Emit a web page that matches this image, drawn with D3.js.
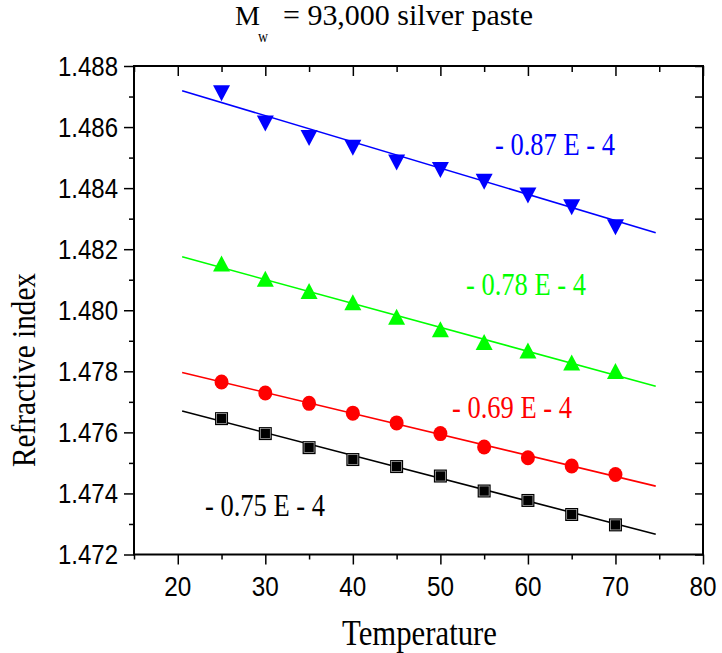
<!DOCTYPE html>
<html><head><meta charset="utf-8">
<script src="https://cdn.jsdelivr.net/npm/d3@7"></script>
<style>html,body{margin:0;padding:0;background:#fff;}svg{display:block;}</style>
</head><body>
<svg id="chart" width="722" height="653"></svg>
<script>
// ---- data ----
const temperatures = [25, 30, 35, 40, 45, 50, 55, 60, 65, 70];
const blueValues  = [1.48711, 1.48612, 1.48564, 1.48532, 1.48484, 1.48459, 1.48421, 1.48376, 1.48337, 1.48272];
const greenValues = [1.48153, 1.48103, 1.48063, 1.48026, 1.47979, 1.47938, 1.47896, 1.47868, 1.47829, 1.47801];
const redValues   = [1.47765, 1.47729, 1.47695, 1.47663, 1.47631, 1.47596, 1.47552, 1.47517, 1.47490, 1.47462];
const blackValues = [1.47645, 1.47596, 1.47550, 1.47511, 1.47488, 1.47457, 1.47408, 1.47377, 1.47331, 1.47297];
const fitX = [20.5, 74.6];
const blueFit  = [1.48719, 1.48254];
const greenFit = [1.48175, 1.47751];
const redFit   = [1.47796, 1.47424];
const blackFit = [1.47670, 1.47266];
const slopeLabels = ["- 0.87 E - 4", "- 0.78 E - 4", "- 0.69 E - 4", "- 0.75 E - 4"];
const xTicks = [20, 30, 40, 50, 60, 70, 80];
const yTicks = [1.472, 1.474, 1.476, 1.478, 1.480, 1.482, 1.484, 1.486, 1.488];

(function () {
const svg = d3.select("#chart");
const L = 134, R = 703, T = 66, B = 554.5;
const x = d3.scaleLinear().domain([15, 80]).range([L, R]);
const y = d3.scaleLinear().domain([1.472, 1.488]).range([B, T]);

const serif = "'Liberation Serif','Times New Roman',serif";
const sans = "'Liberation Sans',Arial,sans-serif";

function txt(g, s, opts) {
  const t = g.append("text").text(s)
    .attr("x", opts.x).attr("y", opts.y)
    .attr("font-family", opts.family).attr("font-size", opts.size)
    .attr("fill", opts.fill || "#000")
    .attr("text-anchor", opts.anchor || "start");
  if (opts.len) t.attr("textLength", opts.len).attr("lengthAdjust", "spacingAndGlyphs");
  if (opts.transform) t.attr("transform", opts.transform);
  return t;
}

// ---- axes ----
const minorX = d3.range(15, 81, 5);
const minorY = d3.range(0, 17).map(i => 1.472 + i * 0.001);

const axB = svg.append("g").attr("transform", `translate(0,${B})`)
  .call(d3.axisBottom(x).tickValues(minorX).tickSize(5).tickFormat(""));
axB.selectAll(".tick line").filter(d => d % 10 === 0).attr("y2", 10);
const axT = svg.append("g").attr("transform", `translate(0,${T})`)
  .call(d3.axisTop(x).tickValues(minorX).tickSize(-6).tickFormat(""));
axT.selectAll(".tick line").filter(d => d % 10 === 0).attr("y2", 10);
const axL = svg.append("g").attr("transform", `translate(${L},0)`)
  .call(d3.axisLeft(y).tickValues(minorY).tickSize(5).tickFormat(""));
axL.selectAll(".tick line").filter((d, i) => i % 2 === 0).attr("x2", -10);
const axR = svg.append("g").attr("transform", `translate(${R},0)`)
  .call(d3.axisRight(y).tickValues(minorY).tickSize(-8).tickFormat(""));
[axB, axT, axL, axR].forEach(g => {
  g.select(".domain").remove();
  g.selectAll(".tick line").attr("stroke", "#000").attr("stroke-width", 1.5);
});
svg.append("rect").attr("x", L).attr("y", T).attr("width", R - L).attr("height", B - T)
  .attr("fill", "none").attr("stroke", "#000").attr("stroke-width", 2);

// tick labels
xTicks.forEach(v => txt(svg, String(v), {x: x(v), y: 596, family: sans, size: 28.5, anchor: "middle", len: 27}));
yTicks.forEach(v => txt(svg, v.toFixed(3), {x: 118, y: y(v) + 9.5, family: sans, size: 27, anchor: "end", len: 60}));

// axis titles
txt(svg, "Temperature", {x: 342, y: 645, family: serif, size: 35, len: 155});
txt(svg, "Refractive index", {x: 0, y: 0, family: serif, size: 34, anchor: "middle", len: 194,
  transform: "translate(35,370) rotate(-90)"});

// title
txt(svg, "M", {x: 235, y: 25, family: serif, size: 28, len: 25});
txt(svg, "w", {x: 258, y: 42, family: serif, size: 17, len: 10});
txt(svg, "= 93,000 silver paste", {x: 283, y: 25, family: serif, size: 29, len: 250});

// ---- series ----
const series = [
  {vals: blueValues, fit: blueFit, color: "#0000ff", marker: "down", label: slopeLabels[0], lx: 495, ly: 155},
  {vals: greenValues, fit: greenFit, color: "#00ff00", marker: "up", label: slopeLabels[1], lx: 466, ly: 295},
  {vals: redValues, fit: redFit, color: "#ff0000", marker: "circle", label: slopeLabels[2], lx: 452, ly: 418},
  {vals: blackValues, fit: blackFit, color: "#000000", marker: "square", label: slopeLabels[3], lx: 205, ly: 516}
];

const line = d3.line().x(d => x(d[0])).y(d => y(d[1]));
series.forEach(s => {
  svg.append("path").datum(fitX.map((xv, i) => [xv, s.fit[i]]))
    .attr("d", line).attr("fill", "none").attr("stroke", s.color).attr("stroke-width", 1.6);
});

series.forEach(s => {
  const g = svg.append("g");
  const pts = temperatures.map((t, i) => [t, s.vals[i]]);
  pts.forEach(p => {
    const cx = x(p[0]), cy = y(p[1]);
    if (s.marker === "down") {
      g.append("path").attr("d", `M${cx - 8.5},${cy - 8}L${cx + 8.5},${cy - 8}L${cx},${cy + 8}Z`).attr("fill", s.color);
    } else if (s.marker === "up") {
      g.append("path").attr("d", `M${cx - 8.5},${cy + 8}L${cx + 8.5},${cy + 8}L${cx},${cy - 8}Z`).attr("fill", s.color);
    } else if (s.marker === "circle") {
      g.append("ellipse").attr("cx", cx).attr("cy", cy).attr("rx", 7).attr("ry", 7.5).attr("fill", s.color);
    } else {
      g.append("rect").attr("x", cx - 6.5).attr("y", cy - 6.5).attr("width", 13).attr("height", 13).attr("fill", "#000");
      g.append("rect").attr("x", cx - 5).attr("y", cy - 5).attr("width", 10).attr("height", 10)
        .attr("fill", "#000").attr("stroke", "#bbb").attr("stroke-width", 0.7);
    }
  });
  txt(svg, s.label, {x: s.lx, y: s.ly, family: serif, size: 31, fill: s.color, len: 120});
});
})();
</script>
</body></html>
